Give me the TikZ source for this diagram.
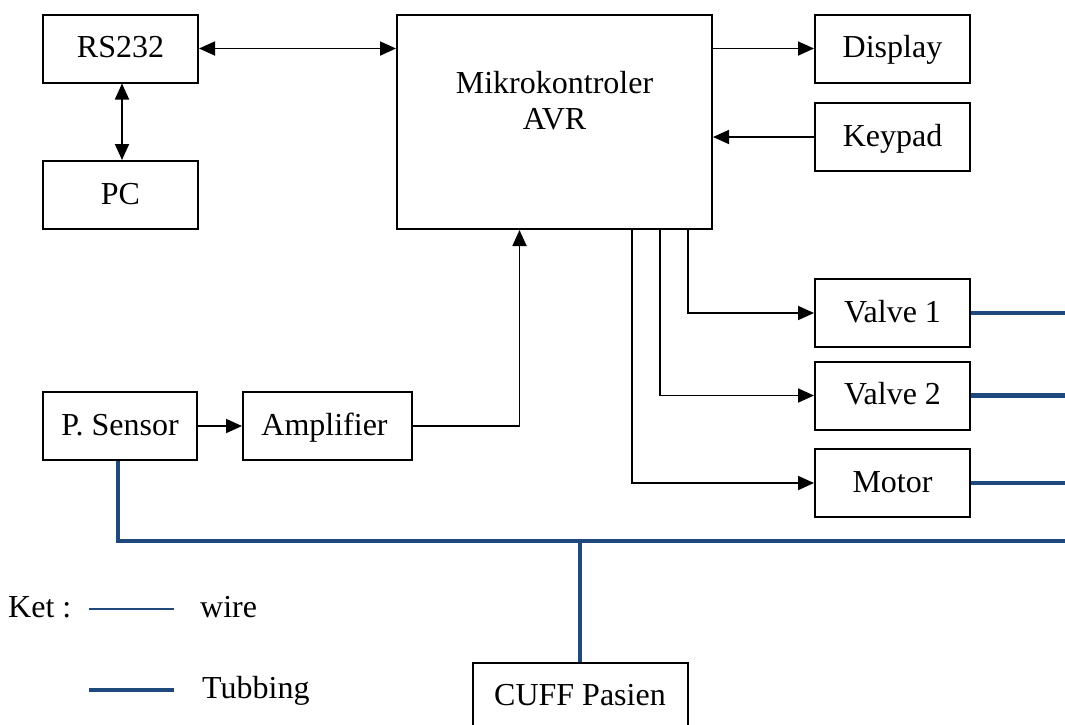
\documentclass[tikz,border=0pt]{standalone}
\usepackage{fontspec}
\setmainfont{Liberation Serif}
\usetikzlibrary{arrows.meta}
\definecolor{tube}{RGB}{31,73,125}

\begin{document}
\begin{tikzpicture}[x=1pt,y=-1pt,
  lbl/.style={font=\fontsize{32}{37}\selectfont},
  blk/.style={draw=black, line width=2pt, fill=white, minimum width=155pt,
    minimum height=68pt, inner sep=0pt, text height=22pt, text depth=4pt,
    lbl},
  tip/.style={-{Triangle[length=16pt,width=14pt]}},
  wire/.style={line width=1.8pt, tip},
  wirebi/.style={line width=1.8pt,
    {Triangle[length=16pt,width=14pt]}-{Triangle[length=16pt,width=14pt]}},
  tubing/.style={draw=tube, line width=4.5pt},
  thintube/.style={draw=tube, line width=1.3pt},
]
% canvas
\clip (0,0) rectangle (1065,724);
\fill[white] (0,0) rectangle (1065,724);

% blocks
\node[blk] (rs)   at (120.5,48.5) {RS232};
\node[blk] (pc)   at (120.5,195)  {PC};
\node[blk, minimum width=315pt, minimum height=214pt] (mcu) at (554.5,122) {};
\node[lbl, align=center, inner sep=0pt] (mcutext) at (554.5,101)
  {Mikrokontroler\\[-1pt]AVR};
\node[blk] (disp) at (892.5,48.5) {Display};
\node[blk] (key)  at (892.5,137)  {Keypad};
\node[blk] (v1)   at (892.5,313)  {Valve 1};
\node[blk] (v2)   at (892.5,395.5){Valve 2};
\node[blk] (mot)  at (892.5,483)  {Motor};
\node[blk, minimum width=154pt] (sens) at (120,426) {P. Sensor};
\node[blk, minimum width=169pt] (amp)  at (327.5,426) {Amplifier\kern6pt};

% tubing network
\coordinate (tubeR) at (1065,541);
\node[blk, minimum width=215pt, minimum height=63pt, text height=21pt,
  text depth=0pt] (cuff) at (580,694.5) {CUFF Pasien};
\draw[tubing] ([xshift=-2pt]sens.south) |- (tubeR);
\draw[tubing, line width=3.5pt] (cuff.north) -- (cuff.north |- tubeR);
\draw[tubing] (v1.east)  -- (v1.east -| tubeR);
\draw[tubing] (v2.east)  -- (v2.east -| tubeR);
\draw[tubing] (mot.east) -- (mot.east -| tubeR);

% signal wiring
\draw[wirebi] (rs.east) -- (rs.east -| mcu.west);
\draw[wirebi] ([xshift=1.5pt]rs.south) -- ([xshift=1.5pt]pc.north);
\draw[wire] (disp.west -| mcu.east) -- (disp.west);
\draw[wire] (key.west) -- (key.west -| mcu.east);
\draw[wire] ([xshift=133.5pt]mcu.south) |- (v1.west);
\draw[wire] ([xshift=105.5pt]mcu.south) |- (v2.west);
\draw[wire] ([xshift=77.5pt]mcu.south)  |- (mot.west);
\draw[wire] (sens.east) -- (amp.west);
\draw[wire] (amp.east) -| ([xshift=-35pt]mcu.south);

% legend
\node[lbl, anchor=base west, inner sep=0pt] (ket) at (8,617) {Ket :};
\coordinate (lw1) at (89,609);
\coordinate (lw2) at (174,609);
\draw[thintube] (lw1) -- (lw2);
\node[lbl, anchor=base west, inner sep=0pt] (lwire) at (200,617) {wire};
\coordinate (lt1) at (89,690);
\coordinate (lt2) at (174,690);
\draw[tubing] (lt1) -- (lt2);
\node[lbl, anchor=base west, inner sep=0pt] (ltube) at (202,698) {Tubbing};
\end{tikzpicture}
\end{document}
